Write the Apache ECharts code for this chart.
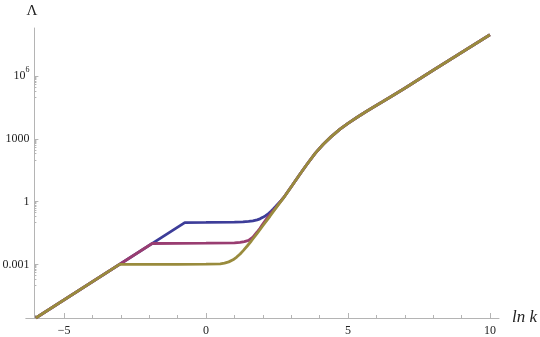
<!DOCTYPE html>
<html>
<head>
<meta charset="utf-8">
<title>Λ vs ln k</title>
<script src="https://cdn.jsdelivr.net/npm/echarts@6/dist/echarts.min.js"></script>
<style>
  html, body { margin: 0; background: #fff; }
  #chart { width: 540px; height: 337px; }
</style>
</head>
<body>
<div id="chart"></div>
<script>
// values, Λ shown on a log scale
var blueLnK = [-6, -0.75, 0, 1, 1.3, 1.5, 1.65, 1.8, 1.9, 2.0, 2.1, 2.2, 2.3, 2.37, 2.46, 2.55, 2.64, 2.73];
var blueLambda = [2.72e-6, 0.100, 0.102, 0.106, 0.108, 0.1135, 0.1216, 0.135, 0.151, 0.178, 0.214, 0.269, 0.355, 0.447, 0.603, 0.832, 1.12, 1.55];
var magentaLnK = [-6, -1.9, 0, 1.0, 1.2, 1.35, 1.5, 1.65, 1.8, 1.9, 2.0, 2.1, 2.2, 2.3, 2.4, 2.49, 2.6, 2.73];
var magentaLambda = [2.72e-6, 0.0100, 0.0104, 0.0107, 0.01135, 0.0123, 0.0141, 0.0200, 0.0355, 0.0537, 0.0851, 0.132, 0.200, 0.295, 0.417, 0.589, 0.933, 1.55];
var oliveLnK = [-6, -3.05, -1, 0, 0.5, 0.65, 0.8, 0.95, 1.08, 1.2, 1.31, 1.45, 1.6, 1.8, 2.0, 2.25, 2.49, 2.73];
var oliveLambda = [2.72e-6, 1.0e-3, 1.01e-3, 1.02e-3, 1.07e-3, 1.15e-3, 1.32e-3, 1.66e-3, 2.24e-3, 3.16e-3, 4.57e-3, 7.59e-3, 1.35e-2, 3.02e-2, 7.08e-2, 0.200, 0.562, 1.51];
// the three curves coincide above ln k ~ 3
var tailLnK = [3.02, 3.3, 3.55, 3.85, 4.13, 4.4, 4.72, 5.0, 5.31, 5.6, 5.89, 6.2, 6.48, 7, 8, 9, 10];
var tailLambda = [5.62, 20.0, 60.3, 209, 562, 1260, 2950, 5620, 1.07e4, 1.91e4, 3.31e4, 5.89e4, 1.0e5, 2.69e5, 1.95e6, 1.38e7, 9.77e7];

var xLabels = [-5, 0, 5, 10];
var xMinorTicks = [-6, -4, -3, -2, -1, 1, 2, 3, 4, 6, 7, 8, 9];
var yLabels = [0.001, 1, 1000, 1e6];

var axisGray = '#b4b4b4';
var textColor = '#222';
var serif = 'Liberation Serif';

function toPoints(lnk, lam) {
    var xs = lnk.concat(tailLnK), ys = lam.concat(tailLambda);
    return xs.map(function (x, i) { return [x, Math.log10(ys[i])]; });
}

var yMajor = yLabels.map(function (v) { return Math.round(Math.log10(v)); });
// minor log ticks: the decade just below each labelled power
var yMinor = [];
yMajor.forEach(function (e) {
    for (var m = 1; m <= 9; m++) yMinor.push(e - 1 + Math.log10(m));
});

var xMin = -6.35, xMax = 10.32, yMin = -5.565, yMax = 8.31;

var myChart = echarts.init(document.getElementById('chart'));
myChart.setOption({
    animation: false,
    backgroundColor: '#fff',
    grid: { left: 25.8, right: 41, top: 28, bottom: 19, containLabel: false, outerBoundsMode: 'none' },
    xAxis: [
        {
            type: 'value', position: 'bottom', min: xMin, max: xMax,
            name: 'ln k', nameLocation: 'end', nameGap: 13,
            nameTextStyle: { fontFamily: serif, fontStyle: 'italic', fontSize: 17, color: textColor, padding: [0, 0, 4, 0] },
            axisLine: { onZero: false, lineStyle: { color: axisGray, width: 1 } },
            axisTick: { inside: true, length: 5, customValues: xLabels, lineStyle: { color: axisGray } },
            axisLabel: {
                customValues: xLabels, margin: 7, fontFamily: serif, fontSize: 12, color: textColor,
                formatter: function (v) { return v < 0 ? '\u2212' + Math.abs(v) : String(v); }
            },
            splitLine: { show: false }
        },
        {
            type: 'value', position: 'bottom', min: xMin, max: xMax,
            axisLine: { show: false, onZero: false },
            axisTick: { inside: true, length: 3, customValues: xMinorTicks, lineStyle: { color: axisGray } },
            axisLabel: { show: false },
            splitLine: { show: false }
        }
    ],
    yAxis: [
        {
            type: 'value', position: 'left', offset: -8.6, min: yMin, max: yMax,
            name: 'Λ', nameLocation: 'end', nameGap: 9,
            nameTextStyle: { fontFamily: serif, fontSize: 15, color: textColor, padding: [0, 5, 0, 0] },
            axisLine: { onZero: false, lineStyle: { color: axisGray, width: 1 } },
            axisTick: { inside: true, length: 4, customValues: yMajor, lineStyle: { color: axisGray } },
            axisLabel: {
                customValues: yMajor, margin: 5, fontFamily: serif, fontSize: 12, color: textColor,
                formatter: function (v) {
                    var e = Math.round(v);
                    if (e >= 6) return '{b|10}{s|' + e + '}';
                    return '{b|' + (+Math.pow(10, e).toPrecision(3)) + '}';
                },
                rich: {
                    b: { fontFamily: serif, fontSize: 12, color: textColor, lineHeight: 20 },
                    s: { fontFamily: serif, fontSize: 8, color: textColor, lineHeight: 10, verticalAlign: 'top' }
                }
            },
            splitLine: { show: false }
        },
        {
            type: 'value', position: 'left', offset: -8.6, min: yMin, max: yMax,
            axisLine: { show: false, onZero: false },
            axisTick: { inside: true, length: 2, customValues: yMinor, lineStyle: { color: axisGray } },
            axisLabel: { show: false },
            splitLine: { show: false }
        }
    ],
    series: [
        {
            name: 'blue', type: 'line', xAxisIndex: 0, yAxisIndex: 0,
            data: toPoints(blueLnK, blueLambda),
            showSymbol: false, smooth: false,
            lineStyle: { color: '#3d3d99', width: 2.8 }
        },
        {
            name: 'magenta', type: 'line', xAxisIndex: 0, yAxisIndex: 0,
            data: toPoints(magentaLnK, magentaLambda),
            showSymbol: false, smooth: false,
            lineStyle: { color: '#993d71', width: 2.8 }
        },
        {
            name: 'olive', type: 'line', xAxisIndex: 0, yAxisIndex: 0,
            data: toPoints(oliveLnK, oliveLambda),
            showSymbol: false, smooth: false,
            lineStyle: { color: '#998b3d', width: 2.8 }
        }
    ]
});
</script>
</body>
</html>
